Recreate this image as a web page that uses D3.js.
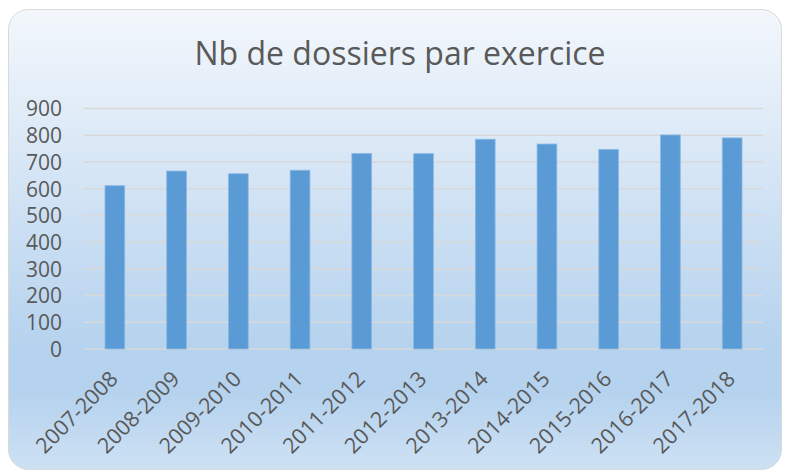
<!DOCTYPE html>
<html><head><meta charset="utf-8">
<script src="https://cdn.jsdelivr.net/npm/d3@7"></script>
<style>body{margin:0;background:#fff}svg{display:block}</style>
</head><body>
<script>
const categories = ["2007-2008","2008-2009","2009-2010","2010-2011","2011-2012","2012-2013","2013-2014","2014-2015","2015-2016","2016-2017","2017-2018"];
const values = [611, 666, 656, 669, 732, 731, 785, 767, 747, 801, 790];
const yTicks = [0,100,200,300,400,500,600,700,800,900];
const title = "Nb de dossiers par exercice";

const W = 785, H = 472;
const svg = d3.select("body").append("svg").attr("width", W).attr("height", H);
const defs = svg.append("defs");
const g = defs.append("linearGradient").attr("id","bg").attr("x1",0).attr("y1",0).attr("x2",0).attr("y2",1);
g.append("stop").attr("offset","0%").attr("stop-color","#f3f7fc");
g.append("stop").attr("offset","74%").attr("stop-color","#b5d2ee");
g.append("stop").attr("offset","83%").attr("stop-color","#b5d2ee");
g.append("stop").attr("offset","100%").attr("stop-color","#cde1f4");

svg.append("rect").attr("x",8.5).attr("y",9.5).attr("width",773).attr("height",460)
  .attr("rx",20).attr("ry",20).attr("fill","url(#bg)").attr("stroke","#d9d9d9").attr("stroke-width",1);

const font = "'Open Sans', sans-serif";
svg.append("text").attr("x",400).attr("y",65).attr("text-anchor","middle")
  .attr("font-family",font).attr("font-size",32).attr("fill","#595959").text(title);

const x = d3.scaleBand().domain(categories).range([84,763]).paddingInner(0.68).paddingOuter(0.34);
const y = d3.scaleLinear().domain([0,900]).range([349,108.5]);

// gridlines
svg.append("g").selectAll("line").data(yTicks).join("line")
  .attr("x1",84).attr("x2",763).attr("y1",d=>y(d)).attr("y2",d=>y(d))
  .attr("stroke","#d9d9d9").attr("stroke-width",1.5);

// bars
svg.append("g").selectAll("rect").data(values).join("rect")
  .attr("x",(d,i)=>x(categories[i])).attr("width",x.bandwidth())
  .attr("y",d=>y(d)).attr("height",d=>y(0)-y(d))
  .attr("fill","#5b9bd5").attr("stroke","#8cb9e3").attr("stroke-width",0.8);

// y axis labels
const yAxis = d3.axisLeft(y).tickValues(yTicks).tickSize(0).tickPadding(0);
const ya = svg.append("g").attr("transform","translate(62,0)").call(yAxis);
ya.select(".domain").remove();
ya.selectAll("text").attr("font-family",font).attr("font-size",21).attr("fill","#595959").attr("dy","0.35em");

// x axis labels
const xAxis = d3.axisBottom(x).tickSize(0).tickPadding(0);
const xa = svg.append("g").attr("transform","translate(0,375)").call(xAxis);
xa.select(".domain").remove();
xa.selectAll("text").attr("font-family",font).attr("font-size",21.5).attr("fill","#595959")
  .attr("text-anchor","end").attr("y",0).attr("dy","0.35em")
  .attr("transform","translate(-1,0) rotate(-45)");
</script>
</body></html>
